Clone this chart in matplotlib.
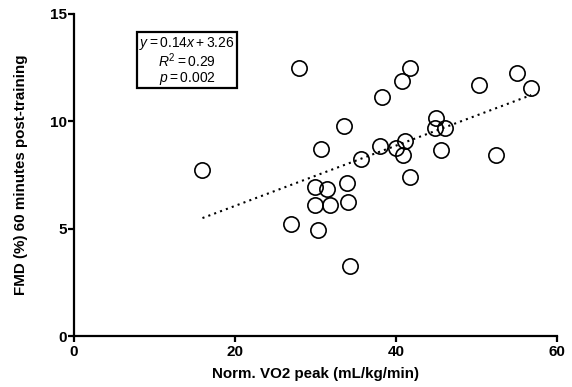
import matplotlib
matplotlib.use("Agg")
import matplotlib.pyplot as plt
from matplotlib.patches import Rectangle
import numpy as np

plt.rcParams['font.family'] = ['Liberation Sans', 'DejaVu Sans']
plt.rcParams['mathtext.fontset'] = 'custom'
plt.rcParams['mathtext.rm'] = 'Liberation Sans'
plt.rcParams['mathtext.it'] = 'Liberation Sans:italic'
plt.rcParams['mathtext.bf'] = 'Liberation Sans:bold'

# Normalised VO2 peak vs. FMD 60 minutes after training
vo2_peak = [15.96, 27.94, 26.9, 29.98, 29.98, 31.43, 31.79, 30.34, 30.7, 33.6,
            33.97, 34.06, 34.24, 35.6, 38.0, 38.3, 40.05, 40.7, 41.1, 40.9,
            41.7, 41.8, 45.0, 44.8, 46.1, 45.6, 50.25, 52.4, 55.0, 56.8]
fmd_60 = [7.74, 12.46, 5.22, 6.93, 6.12, 6.84, 6.09, 4.92, 8.69, 9.77,
          7.13, 6.23, 3.27, 8.22, 8.85, 11.14, 8.77, 11.85, 9.07, 8.41,
          12.49, 7.41, 10.14, 9.69, 9.67, 8.68, 11.67, 8.43, 12.24, 11.54]

slope = 0.14
intercept = 3.26
r_squared = 0.29
p_value = 0.002

x_ticks = [0, 20, 40, 60]
y_ticks = [0, 5, 10, 15]

W, H = 572, 387
fig = plt.figure(figsize=(W / 100, H / 100), dpi=100)
ax = fig.add_axes([74 / W, 1 - 336.3 / H, 483 / W, 322.8 / H])

ax.plot(vo2_peak, fmd_60, linestyle='none', marker='o', markersize=11,
        markerfacecolor='none', markeredgecolor='black', markeredgewidth=1.2,
        clip_on=False, zorder=3)

fit_x = np.array([min(vo2_peak), max(vo2_peak)])
ax.plot(fit_x, slope * fit_x + intercept, color='black', linestyle=(0, (1, 2)),
        linewidth=1.5, zorder=2)

ax.set_xlim(0, 60)
ax.set_ylim(0, 15)
ax.set_xticks(x_ticks)
ax.set_yticks(y_ticks)
ax.set_xticklabels([str(t) for t in x_ticks], fontweight='bold', fontsize=11)
ax.set_yticklabels([str(t) for t in y_ticks], fontweight='bold', fontsize=11)

for side in ('top', 'right'):
    ax.spines[side].set_visible(False)
for side in ('left', 'bottom'):
    ax.spines[side].set_linewidth(1.6)
ax.tick_params(direction='out', length=4, width=1.6)
ax.tick_params(axis='x', pad=2)
ax.tick_params(axis='y', pad=1)

ax.set_xlabel('Norm. VO2 peak (mL/kg/min)', fontweight='bold', fontsize=10.9, labelpad=6)
ax.set_ylabel('FMD (%) 60 minutes post-training', fontweight='bold', fontsize=10.9, labelpad=16)

# Regression summary box
box_left, box_top, box_w, box_h = 137, 32, 100, 56
fig.patches.append(Rectangle((box_left / W, 1 - (box_top + box_h) / H), box_w / W, box_h / H,
                             transform=fig.transFigure, facecolor='white',
                             edgecolor='black', linewidth=1.6, zorder=5))
stat_lines = [r'$y = %.2fx + %.2f$' % (slope, intercept),
              r'$R^2 = %.2f$' % r_squared,
              r'$p = %.3f$' % p_value]
for i, line in enumerate(stat_lines):
    fig.text((box_left + box_w / 2) / W, 1 - (box_top + 11.5 + 17.5 * i) / H, line,
             ha='center', va='center', fontsize=10, zorder=6)

fig.savefig('out.png', dpi=100)
